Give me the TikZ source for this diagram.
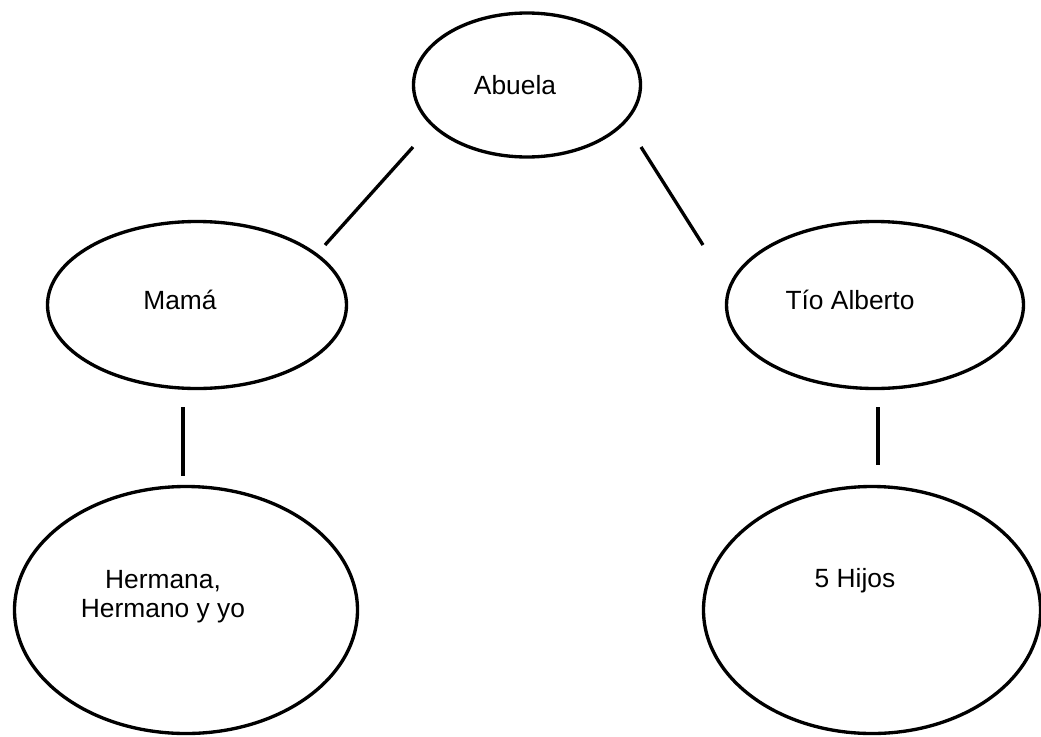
\documentclass[tikz,border=0pt]{standalone}
\usepackage{fontspec}
\setmainfont{Liberation Sans}
\usepackage{tikz}
\usetikzlibrary{shapes.geometric}
\usetikzlibrary{positioning}

\begin{document}
\begin{tikzpicture}
    \tikzstyle{oval}=[draw, ellipse, line width=1.9pt, inner sep=0pt]
    \tikzstyle{txt}=[font=\fontsize{15}{16.5}\selectfont, align=center]
    \tikzstyle{lnk}=[line width=1.9pt]
    \useasboundingbox (0,0) rectangle (20.82,-14.72);
    \node[oval, minimum width=4.54cm, minimum height=2.88cm,
      label={[txt, xshift=-0.24cm]center:Abuela}] (abuela) at (10.54,-1.70) {};
    \node[oval, minimum width=5.98cm, minimum height=3.34cm,
      label={[txt, xshift=-0.34cm, yshift=0.10cm]center:Mamá}] (mama) at (3.94,-6.10) {};
    \node[oval, minimum width=5.94cm, minimum height=3.34cm,
      label={[txt, xshift=-0.50cm, yshift=0.10cm]center:Tío Alberto}] (tio) at (17.50,-6.10) {};
    \node[oval, minimum width=6.86cm, minimum height=4.94cm,
      label={[txt, xshift=-0.46cm, yshift=0.27cm]center:{Hermana,\\Hermano y yo}}] (hermanos) at (3.72,-12.20) {};
    \node[oval, minimum width=6.74cm, minimum height=4.94cm,
      label={[txt, xshift=-0.34cm, yshift=0.58cm]center:5 Hijos}] (hijos) at (17.44,-12.20) {};
    % line ends, the lines stop short of the ovals
    \coordinate (abuelaL) at (8.26,-2.94);
    \coordinate (abuelaR) at (12.82,-2.94);
    \coordinate (mamaT) at (6.50,-4.90);
    \coordinate (tioT) at (14.06,-4.90);
    \coordinate (mamaB) at (3.66,-8.14);
    \coordinate (hermanosT) at (3.66,-9.52);
    \coordinate (tioB) at (17.56,-8.14);
    \coordinate (hijosT) at (17.56,-9.30);
    \foreach \i/\j in
    {abuelaL/mamaT, abuelaR/tioT, mamaB/hermanosT, tioB/hijosT}
    {\draw[lnk] (\i) -- (\j);}
\end{tikzpicture}
\end{document}
